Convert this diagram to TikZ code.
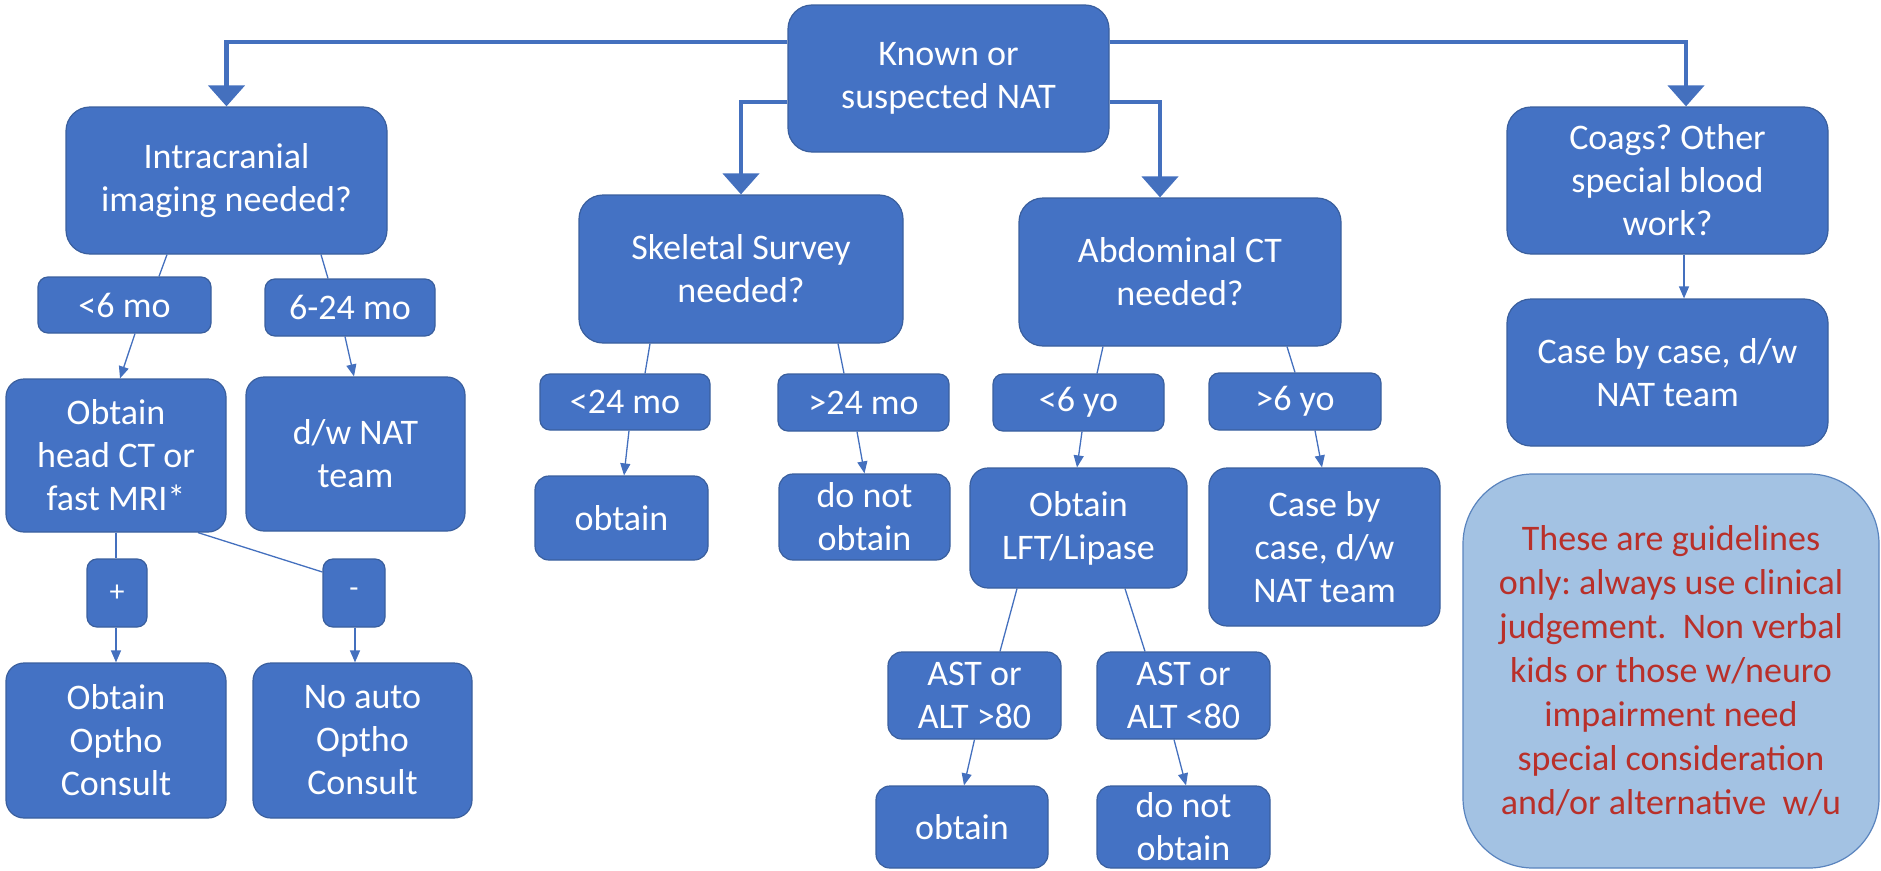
\documentclass[tikz,border=0pt]{standalone}
\usepackage{fontspec}
\setmainfont{Carlito}
\usetikzlibrary{arrows.meta,backgrounds}
\definecolor{boxblue}{HTML}{4472C4}
\definecolor{boxedge}{HTML}{3A5F9E}
\definecolor{linkblue}{HTML}{4470BE}
\definecolor{notefill}{HTML}{A3C2E3}
\definecolor{noteedge}{HTML}{5A84BE}
\definecolor{notetext}{HTML}{B9302A}
\frenchspacing
\tikzset{
  box/.style={draw=boxedge, line width=1.2pt, fill=boxblue, text=white,
    rectangle, inner sep=0pt, align=center, font=\fontsize{36}{43}\selectfont},
  bigbox/.style={box, rounded corners=24pt},
  midbox/.style={box, rounded corners=18pt},
  smallbox/.style={box, rounded corners=14pt},
  lblbox/.style={box, rounded corners=10pt},
  notebox/.style={draw=noteedge, line width=1.2pt, fill=notefill, text=notetext,
    rectangle, inner sep=0pt, align=center, rounded corners=70pt,
    font=\fontsize{36}{44}\selectfont},
  thinline/.style={draw=linkblue, line width=1.3pt},
  thinarrow/.style={thinline, -{Triangle[width=10pt,length=12pt]}},
  thickarrow/.style={draw=linkblue, line width=4.5pt,
    -{Triangle[width=36pt,length=21pt]}}
}
\begin{document}
\begin{tikzpicture}[x=1pt,y=-1pt]
\useasboundingbox (0,0) rectangle (1881,870);

% top level
\node[bigbox, minimum width=321pt, minimum height=147pt] (root) at (948.5,78.5) {Known or\\suspected NAT};
\node[bigbox, minimum width=321pt, minimum height=147pt] (intr) at (226.5,180.5) {Intracranial\\imaging needed?};
\node[bigbox, minimum width=324pt, minimum height=148pt] (skel) at (741,269) {Skeletal Survey\\needed?};
\node[bigbox, minimum width=322pt, minimum height=148pt] (abd) at (1180,272) {Abdominal CT\\needed?};
\node[bigbox, minimum width=321pt, minimum height=147pt] (coags) at (1667.5,180.5) {Coags? Other\\special blood\\work?};
\node[bigbox, minimum width=321pt, minimum height=147pt] (caseR) at (1667.5,372.5) {Case by case, d/w\\NAT team};

% label boxes
\node[lblbox, minimum width=173pt, minimum height=56pt] (l6mo) at (124.5,305) {<6 mo};
\node[lblbox, minimum width=170pt, minimum height=57pt] (l624) at (350,307.5) {6-24 mo};
\node[lblbox, minimum width=170pt, minimum height=56pt] (l24lt) at (625,402) {<24 mo};
\node[lblbox, minimum width=171pt, minimum height=57pt] (l24gt) at (863.5,402.5) {>24 mo};
\node[lblbox, minimum width=171pt, minimum height=57pt] (l6yo) at (1078.5,402.5) {<6 yo};
\node[lblbox, minimum width=172pt, minimum height=57pt] (g6yo) at (1295,401.5) {>6 yo};
\node[lblbox, minimum width=60pt, minimum height=68pt, font=\fontsize{30}{36}\selectfont] (plus) at (117,593) {+};
\node[lblbox, minimum width=62pt, minimum height=68pt, font=\fontsize{30}{36}\selectfont] (minus) at (354,593) {-};

% result boxes
\node[midbox, minimum width=220pt, minimum height=153pt] (head) at (116,455.5) {Obtain\\head CT or\\fast MRI*};
\node[midbox, minimum width=219pt, minimum height=154pt] (dwnat) at (355.5,454) {d/w NAT\\team};
\node[midbox, minimum width=220pt, minimum height=155pt] (optho) at (116,740.5) {Obtain\\Optho\\Consult};
\node[midbox, minimum width=219pt, minimum height=155pt] (noauto) at (362.5,740.5) {No auto\\Optho\\Consult};
\node[smallbox, minimum width=173pt, minimum height=84pt] (obtS) at (621.5,518) {obtain};
\node[smallbox, minimum width=171pt, minimum height=86pt] (dnoS) at (864.5,517) {do not\\obtain};
\node[midbox, minimum width=217pt, minimum height=120pt] (lft) at (1078.5,528) {Obtain\\LFT/Lipase};
\node[midbox, minimum width=231pt, minimum height=158pt] (caseM) at (1324.5,547) {Case by\\case, d/w\\NAT team};
\node[smallbox, minimum width=173pt, minimum height=87pt] (ast1) at (974.5,695.5) {AST or\\ALT >80};
\node[smallbox, minimum width=173pt, minimum height=87pt] (ast2) at (1183.5,695.5) {AST or\\ALT <80};
\node[smallbox, minimum width=172pt, minimum height=82pt] (obtB) at (962,827) {obtain};
\node[smallbox, minimum width=173pt, minimum height=82pt] (dnoB) at (1183.5,827) {do not\\obtain};

% note
\node[notebox, minimum width=416pt, minimum height=394pt] (note) at (1671,671) {These are guidelines\\only: always use clinical\\judgement.\ \ Non verbal\\kids or those w/neuro\\impairment need\\special consideration\\and/or alternative\ \ w/u};

\begin{scope}[on background layer]
% thick arrows from root
\draw[thickarrow] ([yshift=36.5pt]root.west) -| (intr.north);
\draw[thickarrow] ([yshift=-23.5pt]root.west) -| (skel.north);
\draw[thickarrow] ([yshift=36.5pt]root.east) -| ([xshift=18.5pt]coags.north);
\draw[thickarrow] ([yshift=-23.5pt]root.east) -| ([xshift=-20pt]abd.north);

% intracranial branch
\draw[thinline] ([xshift=-59.5pt]intr.south) -- ([xshift=34.5pt]l6mo.north);
\draw[thinline] ([xshift=94.5pt]intr.south) -- ([xshift=-22pt]l624.north);
\draw[thinarrow] ([xshift=10.5pt]l6mo.south) -- ([xshift=4pt]head.north);
\draw[thinarrow] ([xshift=-5pt]l624.south) -- ([xshift=-1.5pt]dwnat.north);
\draw[thinline] (head.south) -- ([xshift=-1pt]plus.north);
\draw[thinline] ([xshift=82pt]head.south) -- ([yshift=21pt]minus.west);
\draw[thinarrow] ([xshift=-1pt]plus.south) -- (optho.north);
\draw[thinarrow] ([xshift=1pt]minus.south) -- ([xshift=-7.5pt]noauto.north);

% skeletal branch
\draw[thinline] ([xshift=-91pt]skel.south) -- ([xshift=20pt]l24lt.north);
\draw[thinline] ([xshift=97pt]skel.south) -- ([xshift=-19.5pt]l24gt.north);
\draw[thinarrow] ([xshift=4pt]l24lt.south) -- ([xshift=2.5pt]obtS.north);
\draw[thinarrow] ([xshift=-6.5pt]l24gt.south) -- (dnoS.north);

% abdominal branch
\draw[thinline] ([xshift=-77pt]abd.south) -- ([xshift=18.5pt]l6yo.north);
\draw[thinline] ([xshift=107pt]abd.south) -- (g6yo.north);
\draw[thinarrow] ([xshift=3.5pt]l6yo.south) -- ([xshift=-1.5pt]lft.north);
\draw[thinarrow] ([xshift=20pt]g6yo.south) -- ([xshift=-2.5pt]caseM.north);
\draw[thinline] ([xshift=-61.5pt]lft.south) -- ([xshift=25.5pt]ast1.north);
\draw[thinline] ([xshift=46.5pt]lft.south) -- ([xshift=-38.5pt]ast2.north);
\draw[thinarrow] (ast1.south) -- ([xshift=2pt]obtB.north);
\draw[thinarrow] ([xshift=-9.5pt]ast2.south) -- ([xshift=2.5pt]dnoB.north);

% coags branch
\draw[thinarrow] ([xshift=16.5pt]coags.south) -- ([xshift=16.5pt]caseR.north);
\end{scope}
\end{tikzpicture}
\end{document}
